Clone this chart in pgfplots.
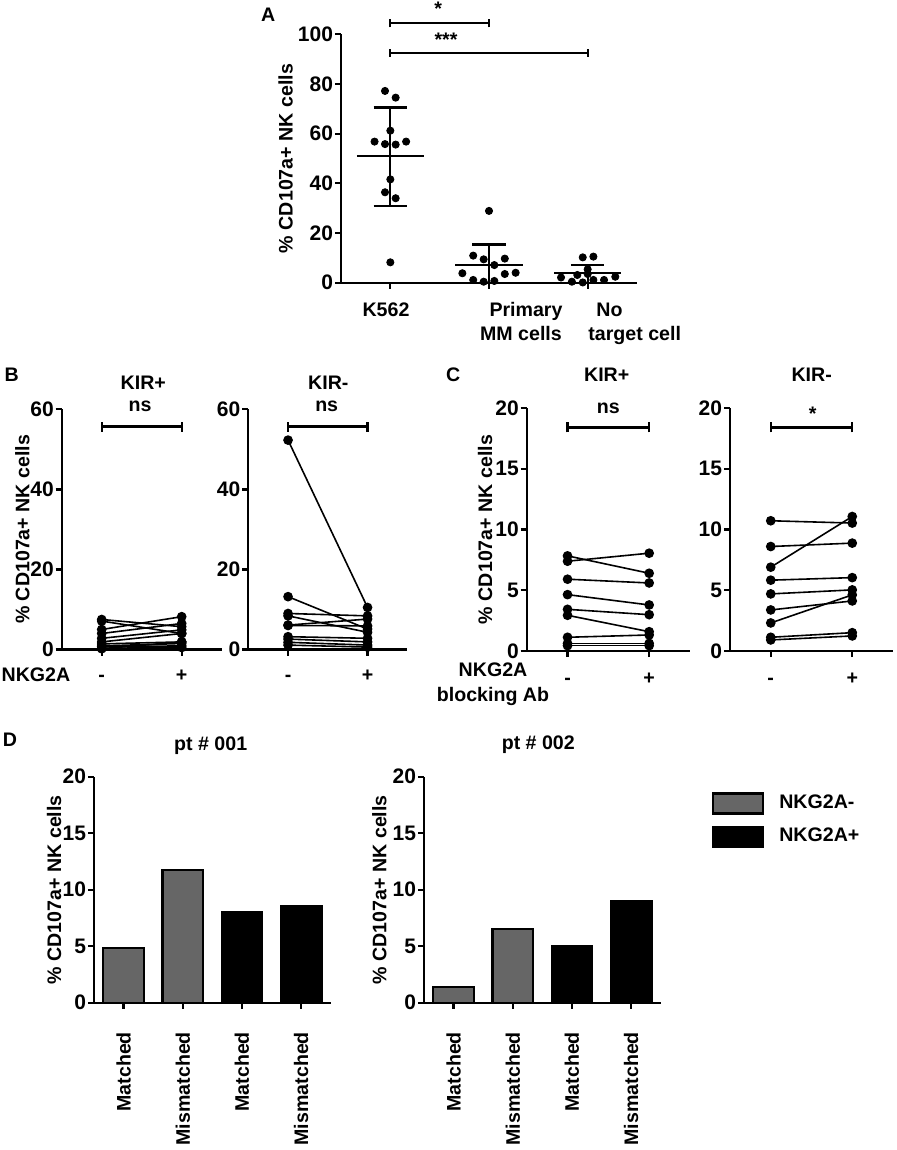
\documentclass[border=0pt]{standalone}
\usepackage{pgfplots}
\pgfplotsset{compat=1.18}
\usepackage{fontspec}
\setmainfont{Liberation Sans}
\newcommand\fs{\fontsize{9.8}{11.8}\selectfont\bfseries}
\newcommand\ft{\fontsize{10.5}{12.6}\selectfont\bfseries}
\definecolor{barGray}{RGB}{102,102,102}

\pgfplotsset{
  gp/.style={scale only axis, anchor=south west, axis lines*=left,
    axis line style={line width=1.15pt, -}, every tick/.style={black, line width=1.15pt},
    tick align=outside, major tick length=3pt, tick label style={font=\ft},
    yticklabel style={inner xsep=0.8pt},
    /pgf/number format/assume math mode=true, clip=false, xticklabels={,,,,}},
  pair/.style={black, line width=0.8pt, mark=*, mark size=2pt, mark options={solid}},
  blk/.style={black, line width=1.1pt, mark=none},
}

\begin{document}
\begin{tikzpicture}[x=0.5pt,y=-0.5pt, lbl/.style={font=\fs, inner sep=0pt}]
\useasboundingbox (0,0) rectangle (896,1150);

% ---------------- Panel A ----------------
\begin{axis}[gp, at={(170.5pt,-141.35pt)}, width=148pt, height=124.2pt,
  xmin=-0.5, xmax=2.5, ymin=0, ymax=100, xtick={0,1,2}, ytick={0,20,40,60,80,100}]
\addplot[only marks, mark=*, mark size=1.8pt, black] coordinates {
 (-0.054,77.2) (0.054,74.5) (0,61.2) (-0.16,56.8) (-0.054,55.8) (0.054,55.6) (0.16,56.8)
 (0,41.6) (-0.054,36.4) (0.054,34.0) (0,8.2)
 (1,28.9) (0.84,10.9) (0.946,9.4) (1.16,9.7) (1.054,7.1) (0.73,3.8) (1.16,3.5) (1.27,4.0)
 (0.84,1.1) (0.946,0.4) (1.054,0.7)
 (1.95,10.2) (2.058,10.5) (2.0,5.4) (1.73,2.1) (1.895,3.1) (2.0,3.5) (2.28,2.4)
 (1.84,0.4) (1.95,0.1) (2.058,1.1) (2.166,1.1)};
% mean and SD
\addplot[blk] coordinates {(-0.34,50.9) (0.34,50.9)};
\addplot[blk] coordinates {(0,31.0) (0,70.5)};
\addplot[blk] coordinates {(-0.17,70.5) (0.17,70.5)};
\addplot[blk] coordinates {(-0.17,31.0) (0.17,31.0)};
\addplot[blk] coordinates {(0.66,7.2) (1.34,7.2)};
\addplot[blk] coordinates {(1,0) (1,15.4)};
\addplot[blk] coordinates {(0.83,15.4) (1.17,15.4)};
\addplot[blk] coordinates {(1.66,3.8) (2.34,3.8)};
\addplot[blk] coordinates {(2,0) (2,7.1)};
\addplot[blk] coordinates {(1.83,7.1) (2.17,7.1)};
% significance brackets
\addplot[blk] coordinates {(0,104.4) (1,104.4)};
\addplot[blk] coordinates {(0,102.8) (0,106.0)};
\addplot[blk] coordinates {(1,102.8) (1,106.0)};
\addplot[blk] coordinates {(0,92.6) (2,92.6)};
\addplot[blk] coordinates {(0,91.0) (0,94.2)};
\addplot[blk] coordinates {(2,91.0) (2,94.2)};
\end{axis}
\node[lbl, anchor=base] at (268.3,21.8) {A};
\node[lbl, anchor=base] at (438.3,15.8) {*};
\node[lbl, anchor=base] at (446,46.8) {***};
\node[lbl, rotate=90] at (285.7,158.5) {\% CD107a+ NK cells};
\node[lbl, anchor=base] at (386,316) {K562};
\node[lbl, anchor=base] at (526,316) {Primary};
\node[lbl, anchor=base] at (521,340) {MM cells};
\node[lbl, anchor=base west] at (596,316) {No};
\node[lbl, anchor=base west] at (588,340) {target cell};

% ---------------- Panel B ----------------
\begin{axis}[gp, at={(30.85pt,-324.75pt)}, width=80pt, height=120.1pt,
  xmin=-0.5, xmax=1.5, ymin=0, ymax=60, xtick={0,1}, ytick={0,20,40,60}]
\addplot[pair] coordinates {(0,7.5) (1,5.7)};
\addplot[pair] coordinates {(0,7.1) (1,4.0)};
\addplot[pair] coordinates {(0,5.0) (1,8.2)};
\addplot[pair] coordinates {(0,4.0) (1,6.5)};
\addplot[pair] coordinates {(0,2.8) (1,4.9)};
\addplot[pair] coordinates {(0,1.9) (1,4.0)};
\addplot[pair] coordinates {(0,1.4) (1,1.9)};
\addplot[pair] coordinates {(0,0.9) (1,1.5)};
\addplot[pair] coordinates {(0,0.7) (1,0.9)};
\addplot[pair] coordinates {(0,0.3) (1,0.5)};
\addplot[pair] coordinates {(0,0.2) (1,1.9)};
\addplot[blk] coordinates {(0,55.7) (1,55.7)};
\addplot[blk] coordinates {(0,54.45) (0,56.95)};
\addplot[blk] coordinates {(1,54.45) (1,56.95)};
\path (axis cs:0,0) ++(0pt,-16pt) node[lbl, anchor=base] {-};
\path (axis cs:1,0) ++(0pt,-16pt) node[lbl, anchor=base] {+};
\end{axis}
\begin{axis}[gp, at={(124.15pt,-324.75pt)}, width=79.5pt, height=120.1pt,
  xmin=-0.5, xmax=1.5, ymin=0, ymax=60, xtick={0,1}, ytick={0,20,40,60}]
\addplot[pair] coordinates {(0,52.3) (1,10.5)};
\addplot[pair] coordinates {(0,13.2) (1,5.1)};
\addplot[pair] coordinates {(0,9.0) (1,8.4)};
\addplot[pair] coordinates {(0,8.4) (1,4.3)};
\addplot[pair] coordinates {(0,6.1) (1,7.6)};
\addplot[pair] coordinates {(0,6.0) (1,5.9)};
\addplot[pair] coordinates {(0,3.2) (1,2.8)};
\addplot[pair] coordinates {(0,2.6) (1,1.9)};
\addplot[pair] coordinates {(0,1.8) (1,1.1)};
\addplot[pair] coordinates {(0,1.1) (1,0.6)};
\addplot[blk] coordinates {(0,55.7) (1,55.7)};
\addplot[blk] coordinates {(0,54.45) (0,56.95)};
\addplot[blk] coordinates {(1,54.45) (1,56.95)};
\path (axis cs:0,0) ++(0pt,-16pt) node[lbl, anchor=base] {-};
\path (axis cs:1,0) ++(0pt,-16pt) node[lbl, anchor=base] {+};
\end{axis}
\node[lbl, anchor=base] at (11.7,381.8) {B};
\node[lbl, anchor=base] at (143.3,389.5) {KIR+};
\node[lbl, anchor=base] at (140,411.7) {ns};
\node[lbl, anchor=base] at (328.3,389.5) {KIR-};
\node[lbl, anchor=base] at (326.7,411.7) {ns};
\node[lbl, rotate=90] at (22.3,529.4) {\% CD107a+ NK cells};
\node[lbl, anchor=base] at (36,681.8) {NKG2A};

% ---------------- Panel C ----------------
\begin{axis}[gp, at={(263.35pt,-325.5pt)}, width=81.65pt, height=121.5pt,
  xmin=-0.5, xmax=1.5, ymin=0, ymax=20, xtick={0,1}, ytick={0,5,10,15,20}]
\addplot[pair] coordinates {(0,7.83) (1,6.40)};
\addplot[pair] coordinates {(0,7.39) (1,8.05)};
\addplot[pair] coordinates {(0,5.91) (1,5.60)};
\addplot[pair] coordinates {(0,4.64) (1,3.79)};
\addplot[pair] coordinates {(0,3.43) (1,2.99)};
\addplot[pair] coordinates {(0,2.94) (1,1.59)};
\addplot[pair] coordinates {(0,1.13) (1,1.32)};
\addplot[pair] coordinates {(0,0.63) (1,0.63)};
\addplot[pair] coordinates {(0,0.44) (1,0.44)};
\addplot[blk] coordinates {(0,18.4) (1,18.4)};
\addplot[blk] coordinates {(0,17.99) (0,18.81)};
\addplot[blk] coordinates {(1,17.99) (1,18.81)};
\path (axis cs:0,0) ++(0pt,-16.75pt) node[lbl, anchor=base] {-};
\path (axis cs:1,0) ++(0pt,-16.75pt) node[lbl, anchor=base] {+};
\end{axis}
\begin{axis}[gp, at={(365pt,-325.5pt)}, width=81.5pt, height=121.5pt,
  xmin=-0.5, xmax=1.5, ymin=0, ymax=20, xtick={0,1}, ytick={0,5,10,15,20}]
\addplot[pair] coordinates {(0,10.72) (1,10.53)};
\addplot[pair] coordinates {(0,6.90) (1,11.07)};
\addplot[pair] coordinates {(0,8.60) (1,8.88)};
\addplot[pair] coordinates {(0,5.83) (1,6.04)};
\addplot[pair] coordinates {(0,4.70) (1,5.03)};
\addplot[pair] coordinates {(0,3.38) (1,4.12)};
\addplot[pair] coordinates {(0,2.31) (1,4.62)};
\addplot[pair] coordinates {(0,1.13) (1,1.51)};
\addplot[pair] coordinates {(0,0.91) (1,1.24)};
\addplot[blk] coordinates {(0,18.4) (1,18.4)};
\addplot[blk] coordinates {(0,17.99) (0,18.81)};
\addplot[blk] coordinates {(1,17.99) (1,18.81)};
\path (axis cs:0,0) ++(0pt,-16.75pt) node[lbl, anchor=base] {-};
\path (axis cs:1,0) ++(0pt,-16.75pt) node[lbl, anchor=base] {+};
\end{axis}
\node[lbl, anchor=base] at (453.3,381.8) {C};
\node[lbl, anchor=base] at (606.7,381.8) {KIR+};
\node[lbl, anchor=base] at (608.3,413.3) {ns};
\node[lbl, anchor=base] at (811.7,381.8) {KIR-};
\node[lbl, anchor=base] at (812.7,420.8) {*};
\node[lbl, rotate=90] at (485,529.5) {\% CD107a+ NK cells};
\node[lbl, anchor=base] at (493,676.8) {NKG2A};
\node[lbl, anchor=base] at (493,701.8) {blocking Ab};

% ---------------- Panel D ----------------
\begin{axis}[gp, at={(47pt,-501.35pt)}, width=118.35pt, height=113pt,
  xmin=-0.5, xmax=3.5, ymin=0, ymax=20, xtick={0,1,2,3}, ytick={0,5,10,15,20},
  ybar, bar width=20.3pt]
\addplot[fill=barGray, draw=black, line width=1.1pt, bar shift=0pt] coordinates {(0,4.81) (1,11.71)};
\addplot[fill=black, draw=black, line width=1.1pt, bar shift=0pt] coordinates {(2,8.05) (3,8.58)};
\path (axis cs:0,0) ++(0pt,-14.5pt) node[lbl, rotate=90, anchor=east] {Matched};
\path (axis cs:1,0) ++(0pt,-14.5pt) node[lbl, rotate=90, anchor=east] {Mismatched};
\path (axis cs:2,0) ++(0pt,-14.5pt) node[lbl, rotate=90, anchor=east] {Matched};
\path (axis cs:3,0) ++(0pt,-14.5pt) node[lbl, rotate=90, anchor=east] {Mismatched};
\end{axis}
\begin{axis}[gp, at={(212pt,-501.35pt)}, width=118.35pt, height=113pt,
  xmin=-0.5, xmax=3.5, ymin=0, ymax=20, xtick={0,1,2,3}, ytick={0,5,10,15,20},
  ybar, bar width=20.3pt,
  legend style={at={(axis description cs:1.2155,0.931)}, anchor=north west, draw=none, fill=none,
    inner sep=0pt, outer sep=0pt, row sep=5.5pt, column sep=7.7pt, font=\fs, nodes={inner sep=0pt}},
  legend cell align=left,
  legend image code/.code={\draw[#1, line width=1.1pt] (0pt,-5pt) rectangle (25pt,5pt);}]
\addplot[fill=barGray, draw=black, line width=1.1pt, bar shift=0pt] coordinates {(0,1.42) (1,6.55)};
\addlegendentry{NKG2A-}
\addplot[fill=black, draw=black, line width=1.1pt, bar shift=0pt] coordinates {(2,5.02) (3,9.00)};
\addlegendentry{NKG2A+}
\path (axis cs:0,0) ++(0pt,-14.5pt) node[lbl, rotate=90, anchor=east] {Matched};
\path (axis cs:1,0) ++(0pt,-14.5pt) node[lbl, rotate=90, anchor=east] {Mismatched};
\path (axis cs:2,0) ++(0pt,-14.5pt) node[lbl, rotate=90, anchor=east] {Matched};
\path (axis cs:3,0) ++(0pt,-14.5pt) node[lbl, rotate=90, anchor=east] {Mismatched};
\end{axis}
\node[lbl, anchor=base] at (10,746.8) {D};
\node[lbl, anchor=base] at (210.7,750) {pt \# 001};
\node[lbl, anchor=base] at (538.3,749.5) {pt \# 002};
\node[lbl, rotate=90] at (54,889.7) {\% CD107a+ NK cells};
\node[lbl, rotate=90] at (379.3,889.7) {\% CD107a+ NK cells};
\end{tikzpicture}
\end{document}
